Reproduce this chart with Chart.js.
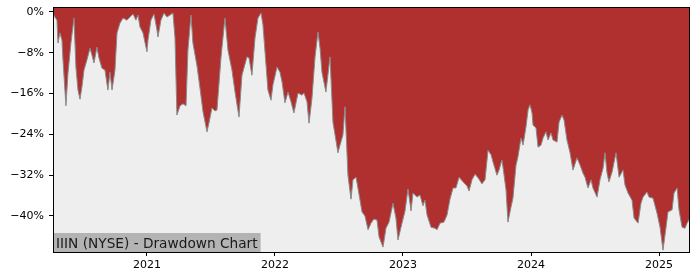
<!DOCTYPE html>
<html>
<head>
<meta charset="utf-8">
<script src="https://cdn.jsdelivr.net/npm/chart.js@4/dist/chart.umd.min.js"></script>
<style>
  html, body { margin: 0; padding: 0; background: #fff; }
  #wrap { width: 700px; height: 280px; }
</style>
</head>
<body>
<div id="wrap"><canvas id="grafico"></canvas></div>
<script>
// fechas en años decimales
const years = [
  2020.266, 2020.281, 2020.297, 2020.305, 2020.320, 2020.336, 2020.344, 2020.367, 2020.383, 2020.406,
  2020.430, 2020.445, 2020.461, 2020.477, 2020.492, 2020.508, 2020.531, 2020.555, 2020.570, 2020.586,
  2020.609, 2020.625, 2020.648, 2020.672, 2020.695, 2020.711, 2020.727, 2020.750, 2020.766, 2020.789,
  2020.813, 2020.844, 2020.867, 2020.891, 2020.914, 2020.930, 2020.945, 2020.969, 2021.000, 2021.008,
  2021.031, 2021.055, 2021.078, 2021.086, 2021.109, 2021.133, 2021.156, 2021.180, 2021.203, 2021.219,
  2021.234, 2021.258, 2021.281, 2021.305, 2021.320, 2021.344, 2021.359, 2021.391, 2021.414, 2021.438,
  2021.469, 2021.484, 2021.508, 2021.531, 2021.547, 2021.578, 2021.609, 2021.633, 2021.664, 2021.688,
  2021.719, 2021.742, 2021.766, 2021.781, 2021.797, 2021.820, 2021.844, 2021.867, 2021.891, 2021.906,
  2021.930, 2021.945, 2021.969, 2021.984, 2022.016, 2022.039, 2022.055, 2022.078, 2022.102, 2022.125,
  2022.148, 2022.180, 2022.211, 2022.227, 2022.250, 2022.266, 2022.289, 2022.313, 2022.336, 2022.352,
  2022.367, 2022.398, 2022.430, 2022.453, 2022.492, 2022.508, 2022.531, 2022.547, 2022.570, 2022.594,
  2022.609, 2022.633, 2022.648, 2022.680, 2022.703, 2022.727, 2022.750, 2022.773, 2022.797, 2022.813,
  2022.844, 2022.867, 2022.891, 2022.922, 2022.945, 2022.961, 2022.992, 2023.016, 2023.039, 2023.063,
  2023.078, 2023.109, 2023.133, 2023.156, 2023.172, 2023.188, 2023.219, 2023.250, 2023.266, 2023.289,
  2023.320, 2023.344, 2023.367, 2023.391, 2023.414, 2023.438, 2023.469, 2023.500, 2023.516, 2023.539,
  2023.563, 2023.586, 2023.617, 2023.641, 2023.664, 2023.688, 2023.703, 2023.734, 2023.750, 2023.773,
  2023.781, 2023.805, 2023.820, 2023.844, 2023.859, 2023.883, 2023.898, 2023.922, 2023.938, 2023.961,
  2023.977, 2023.992, 2024.008, 2024.016, 2024.039, 2024.055, 2024.078, 2024.094, 2024.117, 2024.133,
  2024.156, 2024.172, 2024.203, 2024.219, 2024.242, 2024.258, 2024.281, 2024.305, 2024.328, 2024.359,
  2024.383, 2024.406, 2024.422, 2024.445, 2024.469, 2024.484, 2024.516, 2024.539, 2024.563, 2024.578,
  2024.594, 2024.609, 2024.633, 2024.664, 2024.688, 2024.719, 2024.734, 2024.758, 2024.789, 2024.805,
  2024.836, 2024.859, 2024.875, 2024.906, 2024.922, 2024.953, 2024.984, 2025.008, 2025.031, 2025.055,
  2025.070, 2025.102, 2025.117, 2025.141, 2025.156, 2025.180, 2025.203, 2025.219, 2025.242
];

// caida desde el maximo, en %
const drawdown = [
  -0.4, -1.0, -1.6, -6.1, -4.1, -5.5, -9.4, -18.4, -12.0, -6.1,
  -1.2, -10.8, -15.3, -17.1, -14.7, -11.4, -9.4, -7.1, -8.4, -10.0,
  -6.9, -9.0, -11.0, -11.4, -15.3, -11.8, -15.3, -11.4, -4.1, -2.2,
  -1.2, -1.6, -1.0, -0.4, -1.6, -0.6, -2.9, -4.1, -7.8, -5.5,
  -1.6, -0.4, -3.5, -4.9, -1.6, -0.2, -1.0, -0.6, -0.2, -5.1,
  -20.2, -18.4, -18.0, -18.4, -7.5, -0.6, -6.1, -10.6, -14.9, -19.6,
  -23.5, -21.8, -18.8, -19.4, -19.2, -9.0, -1.2, -7.5, -11.4, -15.7,
  -20.6, -12.4, -10.2, -8.8, -9.0, -12.4, -5.1, -1.2, -0.2, -2.5,
  -10.4, -15.3, -17.3, -14.3, -10.8, -11.8, -13.7, -17.8, -15.7, -17.6,
  -19.8, -15.9, -16.3, -15.9, -17.6, -21.8, -16.9, -8.8, -3.9, -7.1,
  -11.8, -15.7, -8.8, -21.6, -27.6, -26.1, -24.1, -18.6, -32.0, -36.7,
  -32.9, -32.4, -34.5, -39.2, -40.0, -42.7, -41.4, -40.6, -40.8, -44.1,
  -46.1, -42.4, -41.2, -37.5, -40.4, -44.7, -41.4, -39.0, -34.7, -39.0,
  -35.5, -36.3, -35.9, -38.0, -36.9, -39.8, -42.2, -42.4, -42.7, -41.4,
  -41.2, -39.8, -36.7, -34.5, -34.5, -32.4, -33.3, -34.1, -35.1, -32.9,
  -31.8, -32.5, -33.7, -32.9, -27.1, -28.0, -29.4, -32.0, -31.0, -29.0,
  -30.4, -34.9, -41.2, -38.2, -36.5, -30.0, -28.4, -24.7, -26.1, -22.5,
  -19.2, -18.2, -19.8, -22.2, -22.7, -26.5, -26.1, -24.7, -23.5, -25.1,
  -23.7, -25.1, -25.5, -21.6, -20.2, -21.2, -25.1, -27.6, -31.0, -28.6,
  -30.0, -31.6, -32.4, -34.5, -32.9, -34.5, -36.3, -32.9, -30.6, -27.6,
  -31.6, -33.3, -31.4, -27.6, -32.4, -31.0, -33.9, -35.5, -36.9, -40.4,
  -41.4, -37.5, -36.3, -35.3, -36.3, -36.5, -39.4, -42.2, -46.7, -42.2,
  -39.2, -38.8, -35.5, -34.5, -38.8, -42.2, -42.4, -41.4, -40.4
];

const yTicks = [0, -8, -16, -24, -32, -40];
const xTicks = [2021, 2022, 2023, 2024, 2025];
const titulo = 'IIIN (NYSE) - Drawdown Chart';

const puntos = years.map((x, i) => ({ x: x, y: drawdown[i] }));

// fondo gris del area y marco negro
const fondoPlugin = {
  id: 'fondo',
  beforeDraw(chart) {
    const { ctx, chartArea: a } = chart;
    ctx.save();
    ctx.fillStyle = '#ffffff';
    ctx.fillRect(0, 0, chart.width, chart.height);
    ctx.fillStyle = '#eeeeee';
    ctx.fillRect(a.left, a.top, a.right - a.left, a.bottom - a.top);
    ctx.restore();
  },
  afterDraw(chart) {
    const { ctx, chartArea: a } = chart;
    ctx.save();
    // etiqueta abajo a la izquierda
    ctx.font = '13.7px "DejaVu Sans"';
    const w = ctx.measureText(titulo).width;
    ctx.fillStyle = '#b3b3b3';
    ctx.fillRect(a.left, a.bottom - 19, w + 6, 19);
    ctx.fillStyle = '#1a1a1a';
    ctx.textBaseline = 'alphabetic';
    ctx.fillText(titulo, a.left + 3, a.bottom - 4.5);
    // marco
    ctx.strokeStyle = '#000';
    ctx.lineWidth = 1;
    ctx.strokeRect(a.left + 0.5, a.top + 0.5, a.right - a.left - 1, a.bottom - a.top);
    ctx.restore();
  }
};

new Chart(document.getElementById('grafico'), {
  type: 'line',
  data: {
    datasets: [{
      data: puntos,
      borderColor: '#8a8a8a',
      borderWidth: 1,
      backgroundColor: '#b03030',
      fill: 'end',
      pointRadius: 0,
      tension: 0
    }]
  },
  options: {
    responsive: true,
    maintainAspectRatio: false,
    animation: false,
    layout: { padding: { top: 7, right: 10, left: 0, bottom: 0 } },
    plugins: { legend: { display: false }, tooltip: { enabled: false } },
    scales: {
      x: {
        type: 'linear',
        min: 2020.266,
        max: 2025.242,
        afterBuildTicks: s => { s.ticks = xTicks.map(v => ({ value: v })); },
        afterFit: s => { s.height = 28; s.paddingLeft = 0; s.paddingRight = 0; },
        grid: { drawOnChartArea: false, tickLength: 4, color: '#000' },
        border: { display: false },
        ticks: {
          autoSkip: false, maxRotation: 0, padding: 3,
          color: '#000', font: { family: 'DejaVu Sans', size: 11 },
          callback: v => String(v)
        }
      },
      y: {
        min: -47.06,
        max: 0.98,
        afterBuildTicks: s => { s.ticks = yTicks.map(v => ({ value: v })); },
        afterFit: s => { s.width = 53; s.paddingTop = 0; s.paddingBottom = 0; },
        grid: { drawOnChartArea: false, tickLength: 4, color: '#000' },
        border: { display: false },
        ticks: {
          padding: 5,
          color: '#000', font: { family: 'DejaVu Sans', size: 11 },
          callback: v => (v === 0 ? '0' : '\u2212' + Math.abs(v)) + '%'
        }
      }
    }
  },
  plugins: [fondoPlugin]
});
</script>
</body>
</html>
